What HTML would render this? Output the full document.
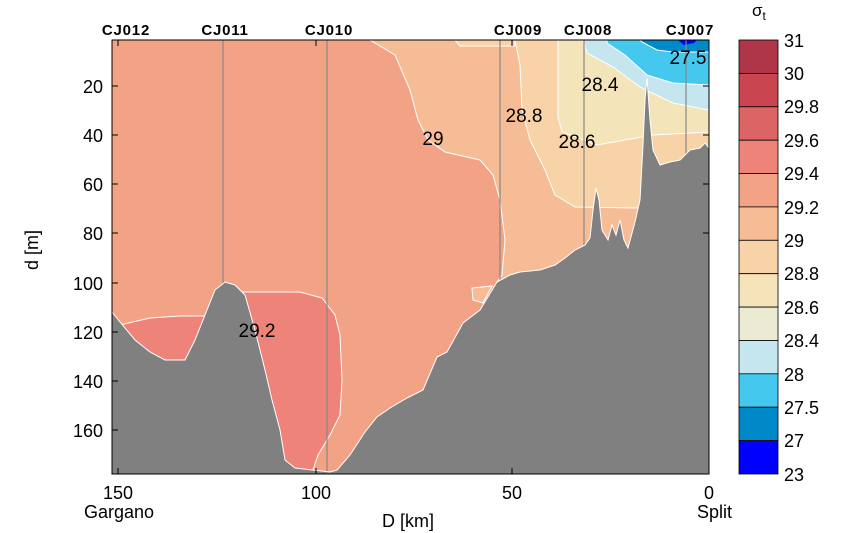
<!DOCTYPE html>
<html><head><meta charset="utf-8"><style>
body{margin:0;background:#fff}
svg{display:block;font-family:"Liberation Sans",sans-serif}
</style></head><body>
<svg width="860" height="533" viewBox="0 0 860 533" xmlns="http://www.w3.org/2000/svg">
<rect width="860" height="533" fill="#fff"/>
<defs><clipPath id="c"><rect x="112" y="40" width="597" height="434"/></clipPath></defs>
<g clip-path="url(#c)" stroke="#fff" stroke-width="1">
<rect x="112" y="40" width="597" height="434" fill="#F2A386" stroke="none"/>
<polygon fill="#F6BC96" points="370,40 395,55 410,90 418,120 428,140 445,152 480,160 493,175 500,200 505,240 502,275 497,282 500,300 709,300 709,40"/>
<polygon fill="#F6BC96" points="472,288 492,286 483,303 473,300"/>
<polygon fill="#F7D3A7" points="515,40 520,65 522,110 530,140 545,170 555,195 575,207 640,208 709,208 709,40"/>
<polygon fill="#F7D3A7" points="455,40 460,46 515,46 515,40"/>
<polygon fill="#F3E4BA" points="558,40 558,63 558,117 562,132 597,145 653,135 709,132 709,40"/>
<polygon fill="#C5E5EF" points="583,40 587,53 613,67 640,87 673,103 709,110 709,40"/>
<polygon fill="#44C8EE" points="607,40 607,43 625,55 647,75 673,83 709,85 709,40"/>
<polygon fill="#0089C8" points="640,40 642,42 657,50 673,52 709,52 709,40"/>
<polygon fill="#0000FF" stroke="none" points="678,40 684,45 694,43 697,40"/>
<polygon fill="#EE8379" points="120,325 150,318 180,316 212,316 212,360 120,360"/>
<polygon fill="#EE8379" points="240,292 300,292 322,298 335,315 340,335 342,380 340,415 330,435 318,455 313,470 315,474 275,474 265,420 250,360 240,320"/>
<g stroke="#888" stroke-width="1.2">
<line x1="223" y1="40" x2="223" y2="474"/><line x1="327" y1="40" x2="327" y2="474"/>
<line x1="500" y1="40" x2="500" y2="474"/><line x1="584" y1="40" x2="584" y2="474"/>
<line x1="686" y1="40" x2="686" y2="474"/>
</g>
<polygon fill="#808080" stroke="#fff" points="112,312 120,322 135,340 150,352 165,360 185,360 195,340 205,315 215,290 225,282 235,285 245,295 255,330 265,370 272,400 280,430 285,460 295,468 330,472 337,470 350,455 365,432 377,417 390,408 407,398 423,390 437,357 447,352 463,323 480,310 497,282 510,275 520,272 540,270 555,265 565,258 575,250 585,245 590,238 593,210 596,188 599,200 602,230 608,240 612,225 616,235 620,220 624,240 628,248 635,222 640,200 643,145 645,100 647,78 650,120 653,150 660,165 670,162 680,160 690,150 700,148 705,143 709,148 709,480 105,480"/>
</g>
<rect x="112" y="40" width="597" height="434" fill="none" stroke="#000"/>
<g stroke="#000">
<line x1="112" y1="86" x2="118" y2="86"/><line x1="112" y1="135" x2="118" y2="135"/><line x1="112" y1="184" x2="118" y2="184"/><line x1="112" y1="233" x2="118" y2="233"/><line x1="112" y1="283" x2="118" y2="283"/><line x1="112" y1="332" x2="118" y2="332"/><line x1="112" y1="381" x2="118" y2="381"/><line x1="112" y1="430" x2="118" y2="430"/>
<line x1="709" y1="86" x2="703" y2="86"/><line x1="709" y1="135" x2="703" y2="135"/><line x1="709" y1="184" x2="703" y2="184"/><line x1="709" y1="233" x2="703" y2="233"/>
<line x1="118" y1="474" x2="118" y2="468"/><line x1="316" y1="474" x2="316" y2="468"/><line x1="512" y1="474" x2="512" y2="468"/>
<line x1="118" y1="40" x2="118" y2="46"/><line x1="316" y1="40" x2="316" y2="46"/><line x1="512" y1="40" x2="512" y2="46"/>
</g>
<g font-size="18" text-anchor="end">
<text x="103" y="93">20</text><text x="103" y="142">40</text><text x="103" y="191">60</text><text x="103" y="240">80</text><text x="103" y="290">100</text><text x="103" y="339">120</text><text x="103" y="388">140</text><text x="103" y="437">160</text>
</g>
<g font-size="18" text-anchor="middle">
<text x="118" y="499">150</text><text x="316" y="499">100</text><text x="512" y="499">50</text><text x="709" y="499">0</text>
<text x="408" y="527">D [km]</text>
</g>
<text x="84" y="518" font-size="18">Gargano</text>
<text x="697" y="518" font-size="18">Split</text>
<text transform="translate(38,250) rotate(-90)" font-size="18" text-anchor="middle">d [m]</text>
<g font-size="15" text-anchor="middle" font-weight="bold" letter-spacing="0.8">
<text x="126" y="35">CJ012</text><text x="225" y="35">CJ011</text><text x="329" y="35">CJ010</text><text x="518" y="35">CJ009</text><text x="588" y="35">CJ008</text><text x="690" y="35">CJ007</text>
</g>
<g font-size="19" text-anchor="middle">
<text x="433" y="145">29</text><text x="524" y="122">28.8</text><text x="577" y="148">28.6</text><text x="600" y="91">28.4</text><text x="688" y="64">27.5</text><text x="257" y="337">29.2</text>
</g>
<g stroke="#000" stroke-width="0.8">
<rect x="739" y="40.0" width="39" height="33.4" fill="#AF3548"/>
<rect x="739" y="73.4" width="39" height="33.4" fill="#C94651"/>
<rect x="739" y="106.8" width="39" height="33.4" fill="#DC6464"/>
<rect x="739" y="140.2" width="39" height="33.4" fill="#EE8379"/>
<rect x="739" y="173.5" width="39" height="33.4" fill="#F2A386"/>
<rect x="739" y="206.9" width="39" height="33.4" fill="#F6BC96"/>
<rect x="739" y="240.3" width="39" height="33.4" fill="#F7D3A7"/>
<rect x="739" y="273.7" width="39" height="33.4" fill="#F5E3B9"/>
<rect x="739" y="307.1" width="39" height="33.4" fill="#EBEBD3"/>
<rect x="739" y="340.5" width="39" height="33.4" fill="#C5E5EF"/>
<rect x="739" y="373.8" width="39" height="33.4" fill="#44C8EE"/>
<rect x="739" y="407.2" width="39" height="33.4" fill="#0089C8"/>
<rect x="739" y="440.6" width="39" height="33.4" fill="#0000FF"/>
</g>
<g font-size="18">
<text x="784" y="47">31</text><text x="784" y="80">30</text><text x="784" y="113">29.8</text><text x="784" y="147">29.6</text><text x="784" y="180">29.4</text><text x="784" y="214">29.2</text><text x="784" y="247">29</text><text x="784" y="280">28.8</text><text x="784" y="314">28.6</text><text x="784" y="347">28.4</text><text x="784" y="381">28</text><text x="784" y="414">27.5</text><text x="784" y="447">27</text><text x="784" y="481">23</text>
</g>
<text x="752" y="16" font-size="17">σ<tspan font-size="12" dy="4">t</tspan></text>
</svg>
</body></html>
